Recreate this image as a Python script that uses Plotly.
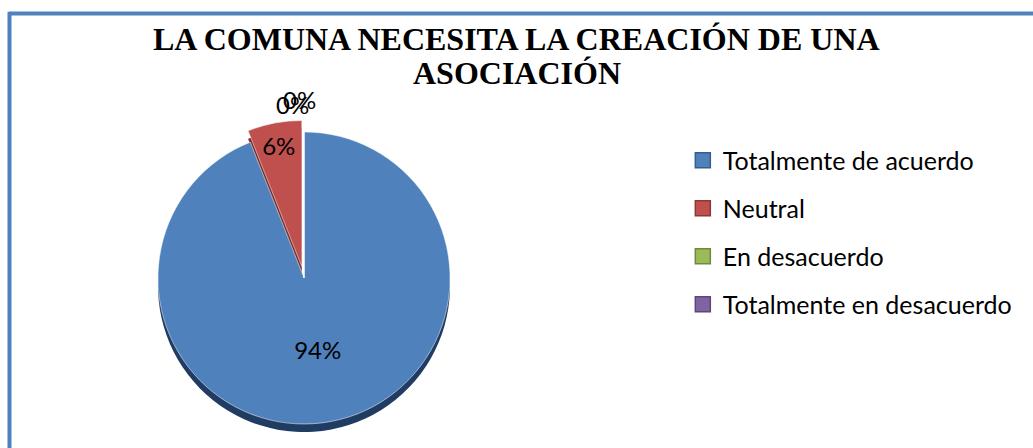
import plotly.graph_objects as go

# Chart data
TITLE_LINES = ["LA COMUNA NECESITA LA CREACIÓN DE UNA", "ASOCIACIÓN"]
CATEGORIES = ["Totalmente de acuerdo", "Neutral", "En desacuerdo", "Totalmente en desacuerdo"]
VALUES = [94, 6, 0, 0]
PULLS = [0, 0.08, 0, 0]

# Office-style palette
COLORS = ['#4F81BD', '#C0504D', '#9BBB59', '#8064A2']
EDGE_COLORS = ['#385D8A', '#8C3836', '#71893F', '#5C4776']
SHADOW_COLORS = ['#213C63', '#7A2E2C', '#5E7A2E', '#4B3A66']
BORDER = '#4F81BD'
LABEL_FONT = 'Lato, sans-serif'

total = sum(VALUES)
pct = [round(v / total * 100) for v in VALUES]
labels_txt = [f"{p}%" if v > 0 else "" for p, v in zip(pct, VALUES)]

fig = go.Figure()

# dark copy underneath, shifted down, gives the 3D edge
fig.add_trace(go.Pie(
    labels=CATEGORIES,
    values=VALUES,
    pull=PULLS,
    sort=False,
    direction='clockwise',
    rotation=0,
    marker=dict(colors=SHADOW_COLORS, line=dict(width=0)),
    textinfo='none',
    hoverinfo='skip',
    showlegend=False,
    domain=dict(x=[0.1416, 0.4470], y=[0.0096, 0.7136]),
))

fig.add_trace(go.Pie(
    labels=CATEGORIES,
    values=VALUES,
    pull=PULLS,
    sort=False,
    direction='clockwise',
    rotation=0,
    marker=dict(colors=COLORS, line=dict(color='white', width=0.5)),
    text=labels_txt,
    textinfo='text',
    textposition='inside',
    insidetextorientation='horizontal',
    insidetextfont=dict(family=LABEL_FONT, size=24, color='black'),
    hovertemplate='%{label}: %{percent}<extra></extra>',
    showlegend=False,
    domain=dict(x=[0.1416, 0.4470], y=[0.0275, 0.7315]),
))

# legend entries (one per category so the rows can be spaced like Excel)
for name, col, edge in zip(CATEGORIES, COLORS, EDGE_COLORS):
    fig.add_trace(go.Scatter(
        x=[None], y=[None], mode='markers', name=name, legendgroup=name,
        marker=dict(symbol='square', size=15, color=col, line=dict(color=edge, width=1.5)),
    ))

# zero-valued categories: Excel stacks their labels above the pie
annotations = []
zero_pos = [(0.283, 0.766), (0.290, 0.777)]
k = 0
for p, v in zip(pct, VALUES):
    if v == 0 and k < len(zero_pos):
        annotations.append(dict(
            x=zero_pos[k][0], y=zero_pos[k][1], xref='paper', yref='paper',
            xanchor='center', yanchor='middle',
            text=f"{p}%", showarrow=False,
            font=dict(family=LABEL_FONT, size=24, color='black'),
        ))
        k += 1

# two-line title
for i, line in enumerate(TITLE_LINES):
    annotations.append(dict(
        x=0.5, y=0.914 - i * 0.078, xref='paper', yref='paper',
        text=f"<b>{line}</b>", showarrow=False,
        xanchor='center', yanchor='middle',
        font=dict(family='Liberation Serif, Times New Roman, serif', size=32, color='black'),
    ))

fig.update_layout(
    width=1033,
    height=448,
    margin=dict(l=0, r=0, t=0, b=0),
    paper_bgcolor='white',
    plot_bgcolor='white',
    xaxis=dict(visible=False),
    yaxis=dict(visible=False),
    annotations=annotations,
    showlegend=True,
    legend=dict(
        x=0.661, y=0.693, xanchor='left', yanchor='top',
        traceorder='grouped',
        tracegroupgap=12.5,
        font=dict(family=LABEL_FONT, size=25, color='black'),
        bgcolor='rgba(0,0,0,0)',
    ),
    shapes=[
        dict(type='line', xref='paper', yref='paper',
             x0=0.0092, x1=1.0, y0=0.97, y1=0.97,
             line=dict(color=BORDER, width=4)),
        dict(type='line', xref='paper', yref='paper',
             x0=0.0092, x1=0.0092, y0=0.0, y1=0.974,
             line=dict(color=BORDER, width=4)),
    ],
)

fig.write_html("out.html", config={'displayModeBar': False},
               post_script="document.body.style.margin='0';")
